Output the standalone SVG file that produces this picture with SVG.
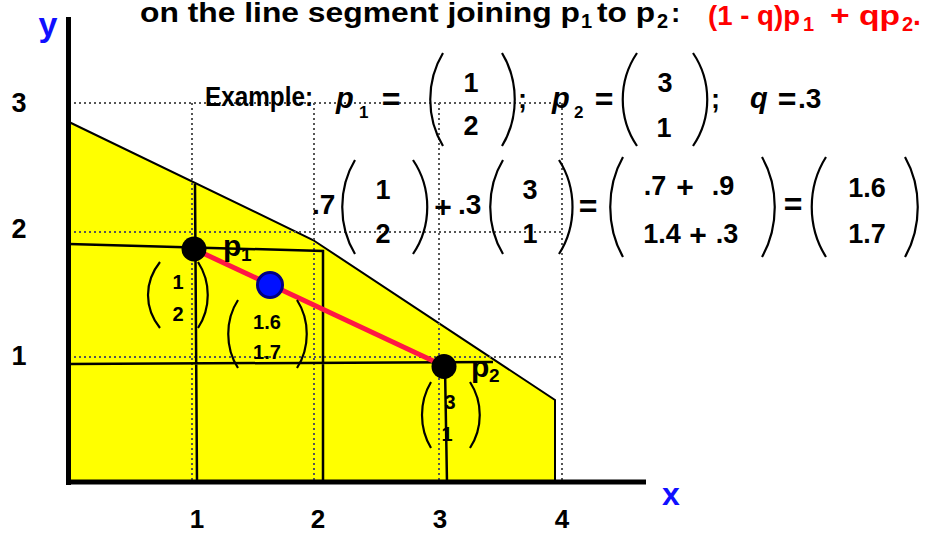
<svg xmlns="http://www.w3.org/2000/svg" width="926" height="533" viewBox="0 0 926 533">
<style>
text{font-family:"Liberation Sans",Arial,sans-serif;font-weight:bold;fill:#000}
.blue{fill:#1010ff}
.red{fill:#ff0000}
.it{font-style:italic}
.grid{stroke:#555;stroke-width:2;stroke-dasharray:2 3;fill:none}
.sol{stroke:#000;stroke-width:2.5;fill:none}
.par{stroke:#000;stroke-width:2.2;fill:none}
.mid{text-anchor:middle}
</style>
<rect width="926" height="533" fill="#fff"/>
<g id="region">
<polygon points="69,122 313,240 555,400 555,483 69,483" fill="#ffff00" stroke="#000" stroke-width="2"/>
</g>
<g id="grid">
<path class="grid" d="M69,103H562M69,232H562M69,357H562M192,103V483M314,103V483M439,103V483M562,103V483"/>
</g>
<g id="connectors">
<path class="sol" d="M69,244L323,251V483M195,184L197,483M69,364L493,362M445,367L447,483"/>
<line x1="194" y1="249" x2="444" y2="366" stroke="#ff1744" stroke-width="5"/>
</g>
<g id="axes">
<line x1="68.5" y1="17" x2="68.5" y2="485" stroke="#000" stroke-width="5"/>
<line x1="66" y1="482" x2="646" y2="482" stroke="#000" stroke-width="5"/>
<text x="48" y="36" font-size="34" class="blue mid">y</text>
<text x="671" y="505" font-size="32" class="blue mid">x</text>
<text x="19" y="112" font-size="27" class="mid">3</text>
<text x="19" y="238" font-size="27" class="mid">2</text>
<text x="19" y="365" font-size="27" class="mid">1</text>
<text x="197" y="528" font-size="26" class="mid">1</text>
<text x="318" y="528" font-size="26" class="mid">2</text>
<text x="440" y="528" font-size="26" class="mid">3</text>
<text x="562" y="528" font-size="26" class="mid">4</text>
</g>
<g id="title">
<text x="140" y="22" font-size="28" textLength="440" lengthAdjust="spacingAndGlyphs">on the line segment joining p</text>
<text x="581" y="28" font-size="20">1</text>
<text x="597" y="22" font-size="28" textLength="58" lengthAdjust="spacingAndGlyphs">to p</text>
<text x="657" y="28" font-size="20">2</text>
<text x="671" y="22" font-size="28">:</text>
<text x="708" y="25" font-size="28" class="red" textLength="92" lengthAdjust="spacingAndGlyphs">(1 - q)p</text>
<text x="803" y="31" font-size="20" class="red">1</text>
<text x="830" y="25" font-size="28" class="red" textLength="70" lengthAdjust="spacingAndGlyphs">+ qp</text>
<text x="902" y="31" font-size="20" class="red">2</text>
<text x="913" y="25" font-size="28" class="red">.</text>
</g>
<g id="example">
<text x="205" y="106" font-size="28" textLength="108" lengthAdjust="spacingAndGlyphs">Example:</text>
<text x="336" y="108" font-size="29" class="it">p</text>
<text x="359" y="118" font-size="17">1</text>
<text x="391" y="110" font-size="32" class="mid">=</text>
<path class="par" d="M443,53C426,81 426,118 443,146M502,53C519,81 519,118 502,146"/>
<text x="471" y="92" font-size="27" class="mid">1</text>
<text x="471" y="135" font-size="27" class="mid">2</text>
<text x="518" y="108" font-size="27">;</text>
<text x="552" y="108" font-size="29" class="it">p</text>
<text x="574" y="118" font-size="17">2</text>
<text x="604" y="110" font-size="32" class="mid">=</text>
<path class="par" d="M637,53C618,81 618,118 637,146M693,53C712,81 712,118 693,146"/>
<text x="665" y="92" font-size="27" class="mid">3</text>
<text x="664" y="137" font-size="27" class="mid">1</text>
<text x="711" y="108" font-size="27">;</text>
<text x="750" y="108" font-size="29" class="it">q</text>
<text x="787" y="110" font-size="32" class="mid">=</text>
<text x="798" y="108" font-size="28">.3</text>
</g>
<g id="equation">
<text x="312" y="214" font-size="28">.7</text>
<path class="par" d="M355,160C338,188 338,226 355,254M413,160C432,188 432,226 413,254"/>
<text x="383" y="199" font-size="27" class="mid">1</text>
<text x="383" y="243" font-size="27" class="mid">2</text>
<text x="443" y="217" font-size="30" class="mid">+</text>
<text x="458" y="214" font-size="28">.3</text>
<path class="par" d="M503,160C486,188 486,226 503,254M559,160C577,188 577,226 559,254"/>
<text x="530" y="199" font-size="27" class="mid">3</text>
<text x="530" y="243" font-size="27" class="mid">1</text>
<text x="588" y="217" font-size="32" class="mid">=</text>
<path class="par" d="M623,157C606,187 606,227 623,257M762,157C779,187 779,227 762,257"/>
<text x="655" y="195" font-size="27" class="mid">.7</text>
<text x="685" y="197" font-size="30" class="mid">+</text>
<text x="723" y="195" font-size="27" class="mid">.9</text>
<text x="662" y="243" font-size="27" class="mid">1.4</text>
<text x="698" y="245" font-size="30" class="mid">+</text>
<text x="727" y="243" font-size="27" class="mid">.3</text>
<text x="793" y="215" font-size="32" class="mid">=</text>
<path class="par" d="M826,157C807,187 807,227 826,257M905,157C922,187 922,227 905,257"/>
<text x="867" y="197" font-size="27" class="mid">1.6</text>
<text x="867" y="243" font-size="27" class="mid">1.7</text>
</g>
<g id="p1">
<circle cx="194" cy="249" r="12.5" fill="#000"/>
<text x="223" y="256" font-size="30">p</text>
<text x="241" y="261" font-size="19">1</text>
<path class="par" d="M160,262C144,282 144,308 160,328M198,262C211,282 211,308 198,328"/>
<text x="178" y="289" font-size="20" class="mid">1</text>
<text x="178" y="321" font-size="20" class="mid">2</text>
</g>
<g id="q-point">
<circle cx="270" cy="285" r="12.5" fill="#0010ff" stroke="#000080" stroke-width="3"/>
<path class="par" d="M238,300C225,320 225,348 238,368M297,300C310,320 310,348 297,368"/>
<text x="267" y="329" font-size="20" class="mid">1.6</text>
<text x="267" y="359" font-size="20" class="mid">1.7</text>
</g>
<g id="p2">
<circle cx="444" cy="366.5" r="12.5" fill="#000"/>
<text x="471" y="377" font-size="30">p</text>
<text x="489" y="382" font-size="19">2</text>
<path class="par" d="M431,382C419,402 419,428 431,448M470,382C483,402 483,428 470,448"/>
<text x="450" y="409" font-size="20" class="mid">3</text>
<text x="447" y="441" font-size="20" class="mid">1</text>
</g>
</svg>
